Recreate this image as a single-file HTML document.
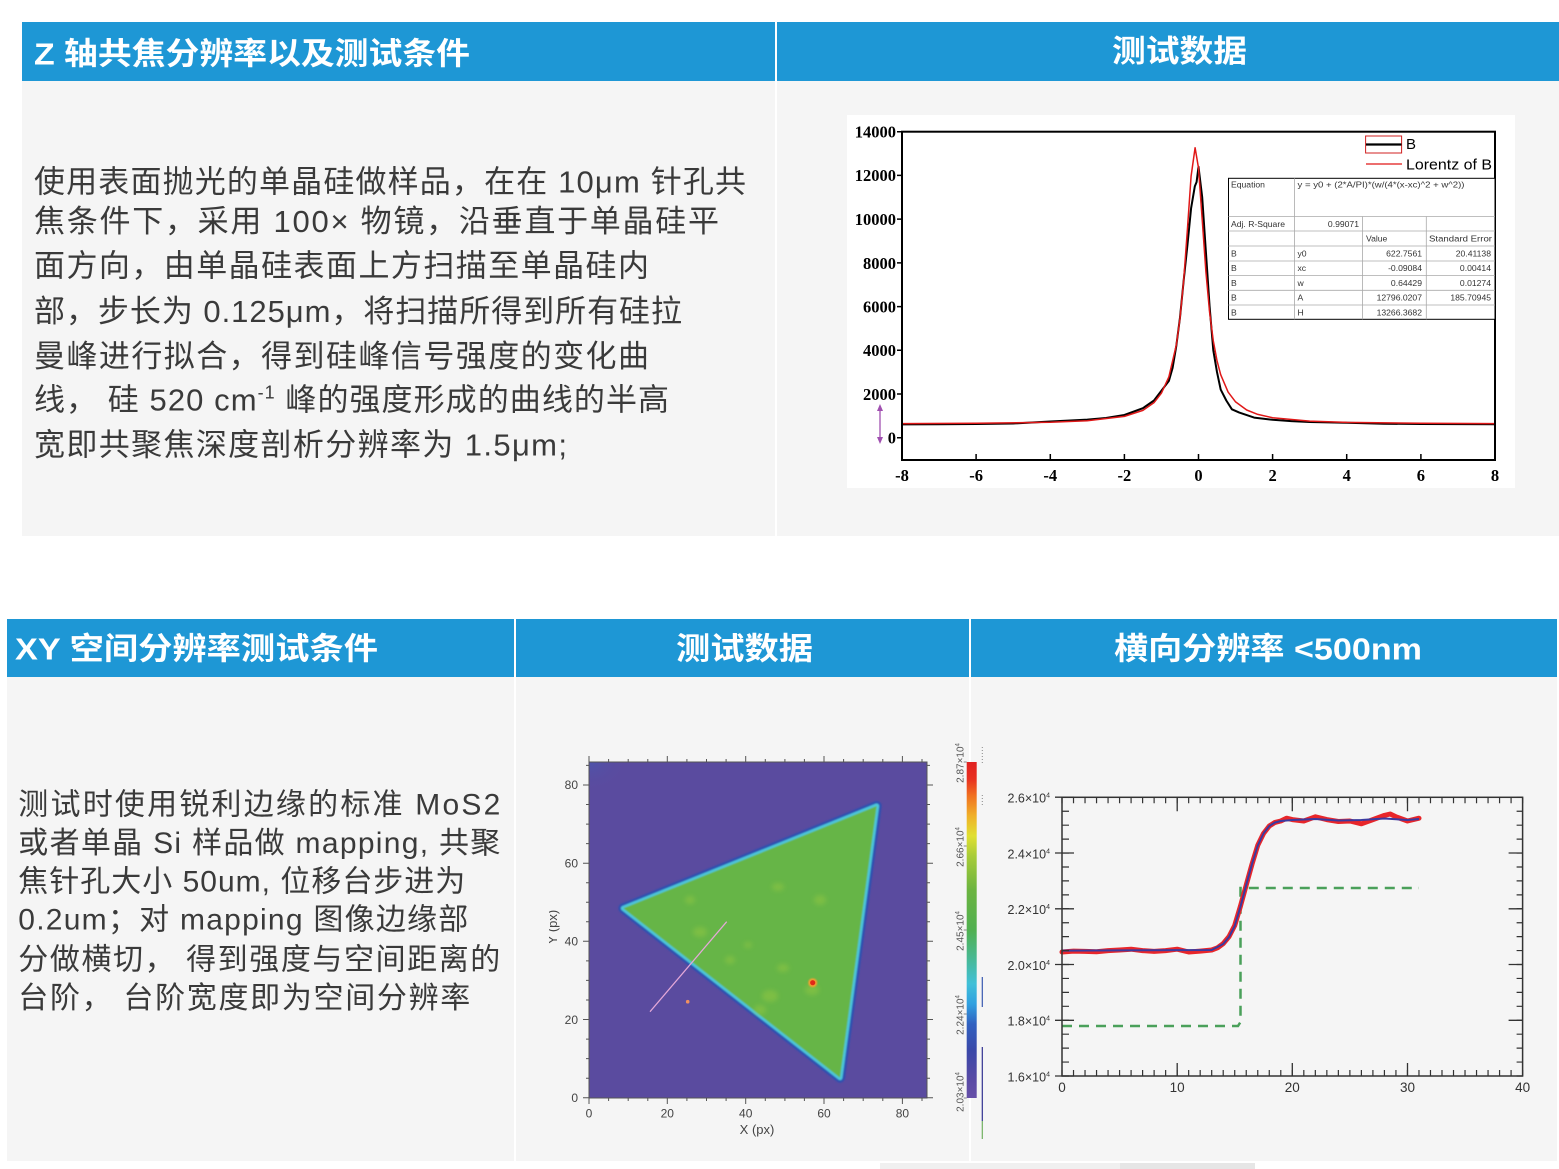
<!DOCTYPE html>
<html><head><meta charset="utf-8"><style>
html,body{margin:0;padding:0;background:#fff;}
svg{display:block;}
</style></head><body>
<svg width="1559" height="1169" viewBox="0 0 1559 1169" xmlns="http://www.w3.org/2000/svg">
<defs>
<linearGradient id="cb" x1="0" y1="1" x2="0" y2="0">
<stop offset="0" stop-color="#6650a8"/><stop offset="0.05" stop-color="#5a4aa5"/>
<stop offset="0.14" stop-color="#3a48a8"/><stop offset="0.22" stop-color="#3060c0"/>
<stop offset="0.28" stop-color="#30a0e0"/><stop offset="0.34" stop-color="#40c0d8"/>
<stop offset="0.42" stop-color="#48b890"/><stop offset="0.5" stop-color="#50b050"/>
<stop offset="0.62" stop-color="#6cb440"/><stop offset="0.72" stop-color="#a8cc38"/>
<stop offset="0.78" stop-color="#e0e030"/><stop offset="0.84" stop-color="#f0b028"/>
<stop offset="0.9" stop-color="#f07020"/><stop offset="0.95" stop-color="#e83020"/>
<stop offset="1" stop-color="#e02020"/>
</linearGradient>
<radialGradient id="corner" cx="0" cy="0" r="1">
<stop offset="0" stop-color="#4858b0" stop-opacity="0.7"/>
<stop offset="1" stop-color="#5a4b9f" stop-opacity="0"/>
</radialGradient>
<filter id="bl" x="-5%" y="-5%" width="110%" height="110%"><feGaussianBlur stdDeviation="0.9"/></filter>
<filter id="bl3" x="-50%" y="-50%" width="200%" height="200%"><feGaussianBlur stdDeviation="2.5"/></filter>
<clipPath id="ylab"><rect x="549" y="850" width="30" height="150"/></clipPath>
</defs>
<rect width="1559" height="1169" fill="#fff"/>

<!-- TOP SECTION -->
<rect x="22" y="22" width="753" height="59" fill="#1e97d5"/>
<rect x="777" y="22" width="782" height="59" fill="#1e97d5"/>
<rect x="22" y="81" width="753" height="455" fill="#f5f5f5"/>
<rect x="777" y="81" width="782" height="455" fill="#f5f5f5"/>

<g font-family="'Liberation Sans','Noto Sans CJK SC',sans-serif" font-weight="700" fill="#fff" font-size="31">
<text x="34" y="64.5" textLength="436" lengthAdjust="spacingAndGlyphs">Z 轴共焦分辨率以及测试条件</text>
<text x="1112" y="62" textLength="135" lengthAdjust="spacingAndGlyphs">测试数据</text>
</g>

<g font-family="'Liberation Sans','Noto Sans CJK SC',sans-serif" fill="#3a3a3a" font-size="31">
<text x="34" y="192.5" textLength="712" lengthAdjust="spacing">使用表面抛光的单晶硅做样品，在在 10μm 针孔共</text>
<text x="34" y="232.2" textLength="685" lengthAdjust="spacing">焦条件下，采用 100× 物镜，沿垂直于单晶硅平</text>
<text x="34" y="276.5" textLength="615" lengthAdjust="spacing">面方向，由单晶硅表面上方扫描至单晶硅内</text>
<text x="34" y="322.2" textLength="648" lengthAdjust="spacing">部，步长为 0.125μm，将扫描所得到所有硅拉</text>
<text x="34" y="367.2" textLength="615" lengthAdjust="spacing">曼峰进行拟合，得到硅峰信号强度的变化曲</text>
<text x="34" y="410.4" textLength="635" lengthAdjust="spacing">线， 硅 520 cm<tspan dy="-12" font-size="18">-1</tspan><tspan dy="12"> 峰的强度形成的曲线的半高</tspan></text>
<text x="34" y="455.4" textLength="533" lengthAdjust="spacing">宽即共聚焦深度剖析分辨率为 1.5μm;</text>
</g>

<!-- top chart -->
<rect x="847" y="115" width="668" height="373" fill="#fff"/>
<g font-family="'Liberation Serif',serif" font-weight="700" font-size="16.5" fill="#000">
<g text-anchor="end">
<text x="896" y="137.5">14000</text><text x="896" y="181.2">12000</text><text x="896" y="225">10000</text>
<text x="896" y="268.8">8000</text><text x="896" y="312.5">6000</text><text x="896" y="356.2">4000</text>
<text x="896" y="400">2000</text><text x="896" y="443.6">0</text>
</g>
<g text-anchor="middle">
<text x="902" y="481">-8</text><text x="976.1" y="481">-6</text><text x="1050.3" y="481">-4</text>
<text x="1124.4" y="481">-2</text><text x="1198.5" y="481">0</text><text x="1272.6" y="481">2</text>
<text x="1346.7" y="481">4</text><text x="1420.9" y="481">6</text><text x="1495" y="481">8</text>
</g>
</g>
<path d="M902,131.7h-5M902,175.4h-5M902,219.1h-5M902,262.9h-5M902,306.6h-5M902,350.3h-5M902,394h-5M902,437.7h-5
M976.1,460v-6M1050.3,460v-6M1124.4,460v-6M1198.5,460v-6M1272.6,460v-6M1346.7,460v-6M1420.9,460v-6" stroke="#000" stroke-width="1.5" fill="none"/>
<!-- purple arrow -->
<path d="M880,409V439" stroke="#a050b0" stroke-width="1.3"/>
<path d="M877,411L880,404L883,411Z M877,437L880,444L883,437Z" fill="#a050b0"/>

<!-- black data -->
<path d="M902,424.4L939,424.3L976,424L1013.2,423.5L1050.3,421.5L1087.3,419.6L1105.9,418L1124.4,415L1142.9,408.2L1154,400.5L1161.4,390.7L1168.9,380.9L1172.6,367.8L1176.3,345.9L1180,317.5L1183.7,280.3L1187.4,245.4L1191.1,208.2L1194.8,186.4L1196.6,182L1198.5,166.7L1202.2,197.3L1205.9,251.9L1209.6,306.6L1213.3,350.3L1217,372.1L1220.7,389.6L1226.3,400.5L1231.9,409.3L1239.3,412.6L1254.1,417.6L1272.6,419.8L1291.2,421.1L1309.7,422L1346.7,422.8L1383.8,423.7L1420.9,424L1495,424.3" stroke="#000" stroke-width="2" fill="none" stroke-linejoin="round"/>
<!-- red lorentz -->
<path d="M902,423.6L976.1,423.3L1050.3,422.2L1087.3,420.7L1124.4,416.4L1142.9,410.4L1154,402.6L1161.4,393.2L1168.9,376.8L1176.3,345.1L1180,318.3L1183.7,280.2L1187.4,229.6L1191.1,176.1L1195.1,147.7L1198.5,168L1202.2,219.5L1205.9,271.8L1209.6,312.3L1213.3,340.9L1217,360.7L1220.7,374.7L1228.1,392.1L1235.6,401.9L1246.7,410L1257.8,414.4L1272.6,417.7L1309.7,421.1L1346.7,422.4L1420.9,423.3L1495,423.6" stroke="#e01818" stroke-width="1.5" fill="none" stroke-linejoin="round"/>
<rect x="902" y="131.7" width="593" height="328.3" fill="none" stroke="#000" stroke-width="2"/>

<!-- legend -->
<rect x="1365.6" y="136" width="36" height="17" fill="none" stroke="#d02020" stroke-width="1"/>
<path d="M1366,144.5H1401.5" stroke="#000" stroke-width="2.2"/>
<path d="M1366,164H1402" stroke="#e01818" stroke-width="1.2"/>
<g font-family="'Liberation Sans',sans-serif" font-size="15" fill="#000">
<text x="1406" y="149">B</text>
<text x="1406" y="169.5" textLength="86" lengthAdjust="spacingAndGlyphs">Lorentz of B</text>
</g>
<!-- table -->
<rect x="1228.5" y="178.3" width="266.5" height="141" fill="#fff" stroke="#000" stroke-width="1"/>
<path d="M1228.5,216.5H1495M1228.5,231H1495M1228.5,246H1495M1228.5,261H1495M1228.5,275.5H1495M1228.5,290.3H1495M1228.5,305H1495
M1294.5,178.3V319.3M1362.5,216.5V319.3M1426.3,216.5V319.3" stroke="#aaa" stroke-width="0.8" fill="none"/>
<g font-family="'Liberation Sans',sans-serif" font-size="8.6" fill="#333">
<text x="1231" y="187.5">Equation</text>
<text x="1297.5" y="187.5" textLength="167" lengthAdjust="spacingAndGlyphs">y = y0 + (2*A/PI)*(w/(4*(x-xc)^2 + w^2))</text>
<text x="1231" y="227">Adj. R-Square</text>
<text x="1359" y="227" text-anchor="end">0.99071</text>
<text x="1366" y="241.5">Value</text>
<text x="1429" y="241.5" textLength="63" lengthAdjust="spacingAndGlyphs">Standard Error</text>
<text x="1231" y="256.5">B</text><text x="1297.5" y="256.5">y0</text><text x="1422" y="256.5" text-anchor="end">622.7561</text><text x="1491" y="256.5" text-anchor="end">20.41138</text>
<text x="1231" y="271.2">B</text><text x="1297.5" y="271.2">xc</text><text x="1422" y="271.2" text-anchor="end">-0.09084</text><text x="1491" y="271.2" text-anchor="end">0.00414</text>
<text x="1231" y="286">B</text><text x="1297.5" y="286">w</text><text x="1422" y="286" text-anchor="end">0.64429</text><text x="1491" y="286" text-anchor="end">0.01274</text>
<text x="1231" y="300.6">B</text><text x="1297.5" y="300.6">A</text><text x="1422" y="300.6" text-anchor="end">12796.0207</text><text x="1491" y="300.6" text-anchor="end">185.70945</text>
<text x="1231" y="315.3">B</text><text x="1297.5" y="315.3">H</text><text x="1422" y="315.3" text-anchor="end">13266.3682</text>
</g>

<!-- BOTTOM SECTION -->
<rect x="7" y="619" width="507" height="58" fill="#1e97d5"/>
<rect x="516" y="619" width="453" height="58" fill="#1e97d5"/>
<rect x="971" y="619" width="586" height="58" fill="#1e97d5"/>
<rect x="7" y="677" width="507" height="484" fill="#f5f5f5"/>
<rect x="516" y="677" width="453" height="484" fill="#f5f5f5"/>
<rect x="971" y="677" width="586" height="484" fill="#f5f5f5"/>
<rect x="880" y="1163" width="375" height="6" fill="#f0f0f0"/>
<rect x="1120" y="1163" width="135" height="6" fill="#e6e6e6"/>
<g font-family="'Liberation Sans','Noto Sans CJK SC',sans-serif" font-weight="700" fill="#fff" font-size="31">
<text x="15" y="659.5" textLength="363" lengthAdjust="spacingAndGlyphs">XY 空间分辨率测试条件</text>
<text x="676" y="659.5" textLength="137" lengthAdjust="spacingAndGlyphs">测试数据</text>
<text x="1114" y="659.5" textLength="308" lengthAdjust="spacingAndGlyphs">横向分辨率 &lt;500nm</text>
</g>

<g font-family="'Liberation Sans','Noto Sans CJK SC',sans-serif" fill="#3a3a3a" font-size="30">
<text x="18.3" y="814.7" textLength="482" lengthAdjust="spacing">测试时使用锐利边缘的标准 MoS2</text>
<text x="18.3" y="853.1" textLength="482" lengthAdjust="spacing">或者单晶 Si 样品做 mapping, 共聚</text>
<text x="18.3" y="891.4" textLength="447" lengthAdjust="spacing">焦针孔大小 50um, 位移台步进为</text>
<text x="18.3" y="929.7" textLength="450" lengthAdjust="spacing">0.2um；对 mapping 图像边缘部</text>
<text x="18.3" y="969.7" textLength="482" lengthAdjust="spacing">分做横切， 得到强度与空间距离的</text>
<text x="18.3" y="1008.1" textLength="452" lengthAdjust="spacing">台阶， 台阶宽度即为空间分辨率</text>
</g>

<!-- map -->
<rect x="589" y="762" width="338" height="336" fill="#5a4b9f"/>
<rect x="589" y="762" width="40" height="30" fill="url(#corner)"/>
<g filter="url(#bl)">
<polygon points="623.3,908.3 876.7,806 840,1077.7" fill="none" stroke="#2f4fb0" stroke-width="10" stroke-linejoin="round"/>
<polygon points="623.3,908.3 876.7,806 840,1077.7" fill="none" stroke="#4cc6dc" stroke-width="5" stroke-linejoin="round"/>
<polygon points="623.3,908.3 876.7,806 840,1077.7" fill="#66b547"/>
</g>
<g fill="#a8d040" opacity="0.35" filter="url(#bl3)">
<ellipse cx="700" cy="932" rx="7" ry="5"/><ellipse cx="778" cy="887" rx="6" ry="4"/>
<ellipse cx="783" cy="968" rx="6" ry="4"/><ellipse cx="770" cy="996" rx="8" ry="6"/>
<ellipse cx="730" cy="960" rx="5" ry="4"/><ellipse cx="820" cy="900" rx="6" ry="5"/>
<ellipse cx="748" cy="945" rx="4" ry="3"/><ellipse cx="812" cy="990" rx="7" ry="5"/>
<ellipse cx="760" cy="1010" rx="6" ry="5"/><ellipse cx="690" cy="900" rx="5" ry="4"/>
</g>
<circle cx="812.7" cy="982.7" r="4.5" fill="#f0a030" filter="url(#bl)"/>
<circle cx="812.7" cy="982.7" r="2.6" fill="#e02818"/>
<circle cx="687.7" cy="1001.7" r="1.8" fill="#f09060"/>
<path d="M650,1011.7L726.7,921.7" stroke="#e4a8d8" stroke-width="1.2"/>
<rect x="589" y="762" width="338" height="336" fill="none" stroke="#555" stroke-width="1"/>
<path stroke="#555" stroke-width="1" fill="none" d="
M589,1098v6M608.6,1098v3M628.2,1098v3M647.8,1098v3M667.3,1098v6M686.9,1098v3M706.5,1098v3M726.1,1098v3M745.7,1098v6M765.3,1098v3M784.9,1098v3M804.4,1098v3M824,1098v6M843.6,1098v3M863.2,1098v3M882.8,1098v3M902.4,1098v6M922,1098v3
M589,762v-6M608.6,762v-3M628.2,762v-3M647.8,762v-3M667.3,762v-6M686.9,762v-3M706.5,762v-3M726.1,762v-3M745.7,762v-6M765.3,762v-3M784.9,762v-3M804.4,762v-3M824,762v-6M843.6,762v-3M863.2,762v-3M882.8,762v-3M902.4,762v-6M922,762v-3
M589,1097.7h-6M589,1078.2h-3M589,1058.6h-3M589,1039.1h-3M589,1019.5h-6M589,1000h-3M589,980.4h-3M589,960.9h-3M589,941.3h-6M589,921.8h-3M589,902.2h-3M589,882.7h-3M589,863.2h-6M589,843.6h-3M589,824.1h-3M589,804.5h-3M589,785h-6M589,765.4h-3
M927,1097.7h6M927,1078.2h3M927,1058.6h3M927,1039.1h3M927,1019.5h6M927,1000h3M927,980.4h3M927,960.9h3M927,941.3h6M927,921.8h3M927,902.2h3M927,882.7h3M927,863.2h6M927,843.6h3M927,824.1h3M927,804.5h3M927,785h6M927,765.4h3"/>
<g font-family="'Liberation Sans',sans-serif" font-size="12" fill="#444">
<g text-anchor="end">
<text x="578" y="1102">0</text><text x="578" y="1023.8">20</text><text x="578" y="945.6">40</text>
<text x="578" y="867.4">60</text><text x="578" y="789.2">80</text>
</g>
<g text-anchor="middle">
<text x="589" y="1117.5">0</text><text x="667.3" y="1117.5">20</text><text x="745.7" y="1117.5">40</text>
<text x="824" y="1117.5">60</text><text x="902.4" y="1117.5">80</text>
<text x="757" y="1134" font-size="13">X (px)</text>
</g>
<g clip-path="url(#ylab)">
<text transform="translate(557,927) rotate(-90)" text-anchor="middle" font-size="13">Y (px)</text>
</g>
</g>
<!-- colorbar -->
<rect x="966.7" y="762" width="10" height="336" fill="url(#cb)"/>
<path d="M966.7,762h-3M966.7,846h-3M966.7,930h-3M966.7,1014h-3M966.7,1098h-3" stroke="#666" stroke-width="0.8"/>
<g font-family="'Liberation Sans',sans-serif" font-size="10" fill="#555" text-anchor="middle">
<text transform="translate(963.5,763) rotate(-90)">2.87×10<tspan dy="-4" font-size="6">4</tspan></text>
<text transform="translate(963.5,847) rotate(-90)">2.66×10<tspan dy="-4" font-size="6">4</tspan></text>
<text transform="translate(963.5,931) rotate(-90)">2.45×10<tspan dy="-4" font-size="6">4</tspan></text>
<text transform="translate(963.5,1015) rotate(-90)">2.24×10<tspan dy="-4" font-size="6">4</tspan></text>
<text transform="translate(963.5,1092) rotate(-90)">2.03×10<tspan dy="-4" font-size="6">4</tspan></text>
</g>
<path d="M982.3,977V1007" stroke="#3858b0" stroke-width="1.2"/>
<path d="M982.3,1047V1121" stroke="#303090" stroke-width="1.2"/>
<path d="M982.3,1121V1139" stroke="#70b060" stroke-width="1.2"/>
<path d="M982.3,747V763M982.3,795V807" stroke="#888" stroke-width="1" stroke-dasharray="1 2"/>

<!-- step chart -->
<path d="M1062,1026H1238L1240.5,1022V888H1419" stroke="#4aa05a" stroke-width="2.5" fill="none" stroke-dasharray="10 7"/>
<path d="M1062,952L1073.5,951.1L1085,951.4L1096.5,951.7L1108.1,950.6L1119.6,950L1131.1,949.2L1142.6,950.6L1154.1,951.4L1165.6,950.6L1177.2,949.2L1188.7,952L1200.2,951.1L1211.7,950L1217.5,947.8L1223.2,943.6L1229,936.6L1234.7,925.5L1240.5,906L1246.2,885.1L1252,864.2L1257.8,845.2L1263.5,833.5L1269.3,826L1275,822.4L1280.8,821L1286.5,818.2L1292.3,819.6L1303.8,821L1315.3,816.8L1326.8,819.6L1338.4,821.5L1349.9,821L1361.4,823.8L1372.9,819.6L1384.4,815.4L1390.2,814L1395.9,816.8L1407.5,821L1419,818.2" stroke="#e8262a" stroke-width="5" fill="none" stroke-linejoin="round" stroke-linecap="round"/>
<path d="M1062,950.6L1211.7,950L1223.2,944L1229,937L1234.7,926L1240.5,906.5L1246.2,885L1252,864L1257.8,845.5L1263.5,833.5L1269.3,826L1275,822.5L1280.8,821L1292.3,820L1315.3,819L1338.4,820.5L1361.4,820L1384.4,818.5L1407.5,820L1419,819" stroke="#3a3aa0" stroke-width="2" fill="none" stroke-linejoin="round"/>
<rect x="1062" y="797.3" width="460.6" height="278.7" fill="none" stroke="#333" stroke-width="1.5"/>
<g stroke="#333" fill="none">
<path d="M1061.4,1073H1523.2" stroke-width="6" stroke-dasharray="1.2 10.315"/>
<path d="M1061.4,800.3H1523.2" stroke-width="6" stroke-dasharray="1.2 10.315"/>
<path d="M1065.5,1076.6V796.8" stroke-width="7" stroke-dasharray="1.2 12.735"/>
<path d="M1519.6,1076.6V796.8" stroke-width="6" stroke-dasharray="1.2 12.735"/>
<path stroke-width="1.3" d="M1177.2,1076v-13M1292.3,1076v-13M1407.5,1076v-13M1177.2,797.3v14M1292.3,797.3v14M1407.5,797.3v14
M1055,1020.3h19M1055,964.5h19M1055,908.8h19M1055,853h19M1055,797.2h19M1055,1076h19
M1522.6,1020.3h-14M1522.6,964.5h-14M1522.6,908.8h-14M1522.6,853h-14"/>
</g>
<g font-family="'Liberation Sans',sans-serif" font-size="12.5" fill="#333">
<g text-anchor="end">
<text x="1050" y="802.5">2.6×10<tspan dy="-5" font-size="7">4</tspan></text>
<text x="1050" y="858.3">2.4×10<tspan dy="-5" font-size="7">4</tspan></text>
<text x="1050" y="914">2.2×10<tspan dy="-5" font-size="7">4</tspan></text>
<text x="1050" y="969.8">2.0×10<tspan dy="-5" font-size="7">4</tspan></text>
<text x="1050" y="1025.6">1.8×10<tspan dy="-5" font-size="7">4</tspan></text>
<text x="1050" y="1081.3">1.6×10<tspan dy="-5" font-size="7">4</tspan></text>
</g>
<g text-anchor="middle" font-size="13.5">
<text x="1062" y="1092">0</text><text x="1177.2" y="1092">10</text><text x="1292.3" y="1092">20</text>
<text x="1407.5" y="1092">30</text><text x="1522.6" y="1092">40</text>
</g>
</g>
</svg>
</body></html>
